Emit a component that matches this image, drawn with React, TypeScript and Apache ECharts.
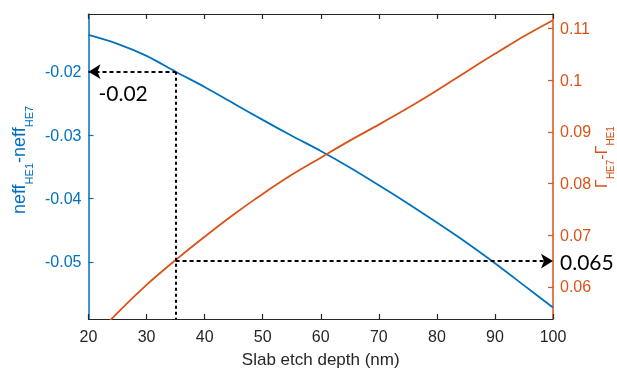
import React, { useEffect, useRef } from "react";
import * as echarts from "echarts";

const depth = [20, 25, 30, 35, 40, 45, 50, 55, 60, 65, 70, 75, 80, 85, 90, 95, 100];
const neffDiff = [-0.0142, -0.0156, -0.0175, -0.02, -0.0224, -0.025, -0.0276, -0.0301, -0.0325, -0.0351, -0.0379, -0.0408, -0.0438, -0.0469, -0.0502, -0.0537, -0.0572];
const gammaDiff = [0.0492, 0.055, 0.0604, 0.0652, 0.0697, 0.074, 0.078, 0.0817, 0.085, 0.0883, 0.0914, 0.0946, 0.098, 0.1016, 0.1051, 0.1085, 0.1116];
const leftTicks = [-0.05, -0.04, -0.03, -0.02];
const rightTicks = [0.06, 0.07, 0.08, 0.09, 0.1, 0.11];
const xRange = [20, 100];
const leftRange = [-0.059, -0.0109];
const rightRange = [0.0538, 0.1128];
const markDepth = 35;
const markNeff = -0.02;
const markGamma = 0.065;

const BLUE = "#0072BD";
const ORANGE = "#D95319";
const DARK = "#262626";
const FONT = "'Liberation Sans', Arial, sans-serif";
const ANNOT_FONT = "Lato, 'Open Sans', sans-serif";

const fmt = (v: number) => String(parseFloat(v.toFixed(4)));

export default function App() {
  const ref = useRef<HTMLDivElement>(null);
  useEffect(() => {
    if (!ref.current) return;
    const chart = echarts.init(ref.current, null, { renderer: "svg" });
    const richFor = (color: string, main: number, sub: number, lh: number) => ({
      m: { fontSize: main, fontFamily: FONT, fill: color, lineHeight: lh },
      s: { fontSize: sub, fontFamily: FONT, fill: color, lineHeight: 11, verticalAlign: "bottom" },
    });
    const dashed = { color: "#000", width: 2, type: [4, 3] as any };
    const dotted = { color: "#000", width: 2, type: [3, 3] as any };
    chart.setOption({
      animation: false,
      grid: { left: 88.5, top: 14, width: 464.5, height: 305, outerBoundsMode: "none" },
      xAxis: [
        {
          type: "value", position: "bottom", min: xRange[0], max: xRange[1], interval: 10,
          axisLine: { show: true, onZero: false, lineStyle: { color: DARK, width: 1.2 } },
          axisTick: { show: true, inside: true, length: 5, lineStyle: { color: DARK, width: 1.2 } },
          axisLabel: { color: DARK, fontSize: 16, fontFamily: FONT, margin: 9 },
          splitLine: { show: false },
          name: "Slab etch depth (nm)", nameLocation: "middle", nameGap: 32,
          nameTextStyle: { color: DARK, fontSize: 17, fontFamily: FONT },
        },
        {
          type: "value", position: "top", min: xRange[0], max: xRange[1], interval: 10,
          axisLine: { show: true, onZero: false, lineStyle: { color: DARK, width: 1.2 } },
          axisTick: { show: true, inside: true, length: 5, lineStyle: { color: DARK, width: 1.2 } },
          axisLabel: { show: false },
          splitLine: { show: false },
        },
      ],
      yAxis: [
        {
          type: "value", position: "left", min: leftRange[0], max: leftRange[1],
          axisLine: { show: true, onZero: false, lineStyle: { color: BLUE, width: 1.5 } },
          axisTick: { show: true, inside: true, length: 5, customValues: leftTicks, lineStyle: { color: BLUE, width: 1.2 } },
          axisLabel: { color: BLUE, fontSize: 16, fontFamily: FONT, margin: 7, customValues: leftTicks, formatter: fmt },
          splitLine: { show: false },
        },
        {
          type: "value", position: "right", min: rightRange[0], max: rightRange[1],
          axisLine: { show: true, onZero: false, lineStyle: { color: ORANGE, width: 1.5 } },
          axisTick: { show: true, inside: true, length: 5, customValues: rightTicks, lineStyle: { color: ORANGE, width: 1.2 } },
          axisLabel: { color: ORANGE, fontSize: 16, fontFamily: FONT, margin: 7, customValues: rightTicks, formatter: fmt },
          splitLine: { show: false },
        },
      ],
      graphic: [
        {
          type: "text", x: 18.5, y: 160, rotation: Math.PI / 2,
          style: {
            text: "{m|neff}{s|HE1}{m|-neff}{s|HE7}",
            rich: richFor(BLUE, 18, 11, 32) as any,
            align: "center", verticalAlign: "middle",
          },
        },
        {
          type: "text", x: 601, y: 157, rotation: Math.PI / 2,
          style: {
            text: "{m|Γ}{s|HE7}{m|-Γ}{s|HE1}",
            rich: richFor(ORANGE, 16, 10, 28) as any,
            align: "center", verticalAlign: "middle",
          },
        },
      ],
      series: [
        {
          type: "line", xAxisIndex: 0, yAxisIndex: 0, showSymbol: false, clip: true, smooth: 0.3,
          data: depth.map((d, i) => [d, neffDiff[i]]),
          lineStyle: { color: BLUE, width: 1.8 }, itemStyle: { color: BLUE },
          z: 3,
          markLine: {
            silent: true, animation: false, symbolSize: [11, 12],
            data: [
              [
                { coord: [xRange[0], markNeff], symbol: "arrow",
                  label: { show: true, position: "insideStartBottom", formatter: fmt(markNeff), color: "#000", fontSize: 21, fontFamily: ANNOT_FONT, distance: 10 } },
                { coord: [markDepth, markNeff], symbol: "none" },
              ],
              [
                { coord: [markDepth, markNeff], symbol: "none", lineStyle: dotted, label: { show: false } },
                { coord: [markDepth, leftRange[0]], symbol: "none" },
              ],
            ],
            lineStyle: dashed,
          },
        },
        {
          type: "line", xAxisIndex: 0, yAxisIndex: 1, showSymbol: false, clip: true, smooth: 0.3,
          data: depth.map((d, i) => [d, gammaDiff[i]]),
          lineStyle: { color: ORANGE, width: 1.8 }, itemStyle: { color: ORANGE },
          z: 3,
          markLine: {
            silent: true, animation: false, symbolSize: [11, 12],
            data: [
              [
                { coord: [markDepth, markGamma], symbol: "none",
                  label: { show: true, position: "end", formatter: fmt(markGamma), color: "#000", fontSize: 21, fontFamily: ANNOT_FONT, distance: 7 } },
                { coord: [xRange[1], markGamma], symbol: "arrow" },
              ],
            ],
            lineStyle: dashed,
          },
        },
      ],
    });
    return () => chart.dispose();
  }, []);
  return <div ref={ref} style={{ position: "fixed", left: 0, top: 0, width: 617, height: 370 }} />;
}
